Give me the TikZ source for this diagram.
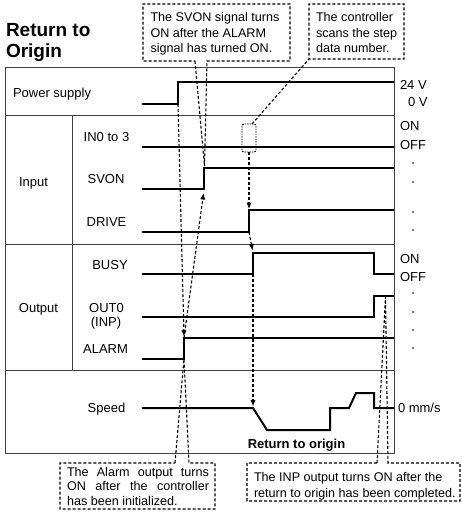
\documentclass[tikz,border=0pt]{standalone}
\usepackage{fontspec}
\setmainfont{Liberation Sans}
\usetikzlibrary{arrows.meta}
\begin{document}
\begin{tikzpicture}[x=1pt,y=-1pt,
  every node/.style={inner sep=0pt, outer sep=0pt, font=\fontsize{13}{15.5}\selectfont},
  ctext/.style={anchor=base west, font=\fontsize{12.6}{15.5}\selectfont},
  frame/.style={draw=black!75, line width=0.9pt},
  sig/.style={line width=2pt, line cap=butt, line join=miter},
  guide/.style={line width=1.1pt, dash pattern=on 3pt off 2pt},
  cbox/.style={line width=1.1pt, dash pattern=on 3pt off 2pt},
  arr/.style={-{Triangle[length=6pt,width=4.5pt]}},
  lbl/.style={anchor=base},
  rlbl/.style={anchor=base west},
  dot/.style={fill=black},
]
\useasboundingbox (0,0) rectangle (461,519);

% title
\node[anchor=base west, font=\fontsize{19}{21}\selectfont\bfseries] (title) at (6,37)
  {\vtop{\baselineskip=21pt\hbox{Return to}\hbox{Origin}}};

% frame
\draw[frame] (5,67) rectangle (394,453);
\draw[frame] (5,115) -- (394,115);
\draw[frame] (5,244) -- (394,244);
\draw[frame] (5,370) -- (394,370);
\draw[frame] (72,115) -- (72,370);

% row labels
\node[anchor=base west] (ps) at (13,97) {Power supply};
\node[lbl] (inp) at (33.5,186) {Input};
\node[lbl] (in03) at (106.5,141) {IN0 to 3};
\node[lbl] (svon) at (106,183) {SVON};
\node[lbl] (drive) at (106.5,226) {DRIVE};
\node[lbl] (outp) at (38.5,312) {Output};
\node[lbl] (busy) at (110,269) {BUSY};
\node[lbl] (out0) at (106.5,312) {OUT0};
\node[lbl] (inpl) at (106,326) {(INP)};
\node[lbl] (alarm) at (105.5,353) {ALARM};
\node[lbl] (speed) at (106.5,412) {Speed};
\node[lbl, font=\fontsize{13}{15.5}\selectfont\bfseries] (rto) at (296.5,448) {Return to origin};

% right labels
\node[rlbl] (v24) at (400,89) {24 V};
\node[rlbl] (v0) at (408,106) {0 V};
\node[rlbl] (on1) at (400,130) {ON};
\node[rlbl] (off1) at (400,149) {OFF};
\node[rlbl] (on2) at (400,263) {ON};
\node[rlbl] (off2) at (400,281) {OFF};
\node[rlbl] (mms) at (398,412) {0 mm/s};
\foreach \yy in {163,182,212,230,293,312,330,348} \fill[dot] (413,\yy) circle (0.9);

% signals
\draw[sig] (142,104) -- (178,104) -- (178,82) -- (394,82);
\draw[sig] (142,147) -- (394,147);
\draw[sig] (142,189) -- (204,189) -- (204,168) -- (394,168);
\draw[sig] (142,232) -- (249,232) -- (249,210) -- (394,210);
\draw[sig] (142,274) -- (253,274) -- (253,253) -- (374,253) -- (374,274) -- (394,274);
\draw[sig] (142,317) -- (374,317) -- (374,296) -- (394,296);
\draw[sig] (142,359) -- (184,359) -- (184,338) -- (394,338);
\draw[sig] (142,408) -- (253,408) -- (267,430) -- (330,430) -- (330,408) -- (349,408)
  -- (356,393) -- (374,393) -- (374,408) -- (394,408);

% key points
\coordinate (pwrup) at (178,104);
\coordinate (alarmtip) at (184,336);
\coordinate (alarmtop) at (184,338);
\coordinate (alarmbot) at (184,359);
\coordinate (svontip) at (203.5,193.5);
\coordinate (svontop) at (204.5,166);
\coordinate (scanbot) at (249,152);
\coordinate (scantop) at (252,124);
\coordinate (drivetip) at (249,208.5);
\coordinate (drivebot) at (249,232);
\coordinate (busytip) at (252.5,250);
\coordinate (busybot) at (253,274);
\coordinate (speedtip) at (253,406);
\coordinate (inptop) at (385.5,297);

% guide arrows
\draw[guide,arr] (pwrup) -- (alarmtip);
\draw[guide,arr] (alarmtop) -- (svontip);
\draw[guide,arr] (scanbot) -- (drivetip);
\draw[guide,arr] (drivebot) -- (busytip);
\draw[guide,arr] (busybot) -- (speedtip);

% small scan marker
\draw[line width=0.9pt, dash pattern=on 1.5pt off 1pt, rounded corners=2pt] (242,124) rectangle (256,152);

% callout 1 (SVON)
\draw[cbox] (195,61) -- (svontop) -- (207,61) -- (290,61) -- (290,4) -- (143,4) -- (143,61) -- cycle;
\node[ctext] (c1) at (150.5,22)
  {\vtop{\baselineskip=15.5pt\hbox{The SVON signal turns}\hbox{ON after the ALARM}\hbox{signal has turned ON.}}};

% callout 2 (controller)
\draw[cbox] (scantop) -- (309,59) -- (404,59) -- (404,4) -- (309,4) -- (309,59);
\node[ctext] (c2) at (316,22)
  {\vtop{\baselineskip=15.5pt\hbox{The controller}\hbox{scans the step}\hbox{data number.}}};

% callout 3 (alarm)
\draw[cbox] (175,463) -- (alarmbot) -- (189,463) -- (215,463) -- (215,509) -- (60,509) -- (60,463) -- cycle;
\node[ctext] (c3) at (67,476)
  {\vtop{\baselineskip=14.8pt\hbox{\makebox[142pt][s]{The Alarm output turns}}\hbox{\makebox[142pt][s]{ON after the controller}}\hbox{has been initialized.}}};

% callout 4 (INP)
\draw[cbox] (377,463) -- (inptop) -- (388,463) -- (460,463) -- (460,501) -- (247,501) -- (247,463) -- cycle;
\node[ctext] (c4) at (254,481)
  {\vtop{\baselineskip=16pt\hbox{The INP output turns ON after the}\hbox{return to origin has been completed.}}};
\end{tikzpicture}
\end{document}
